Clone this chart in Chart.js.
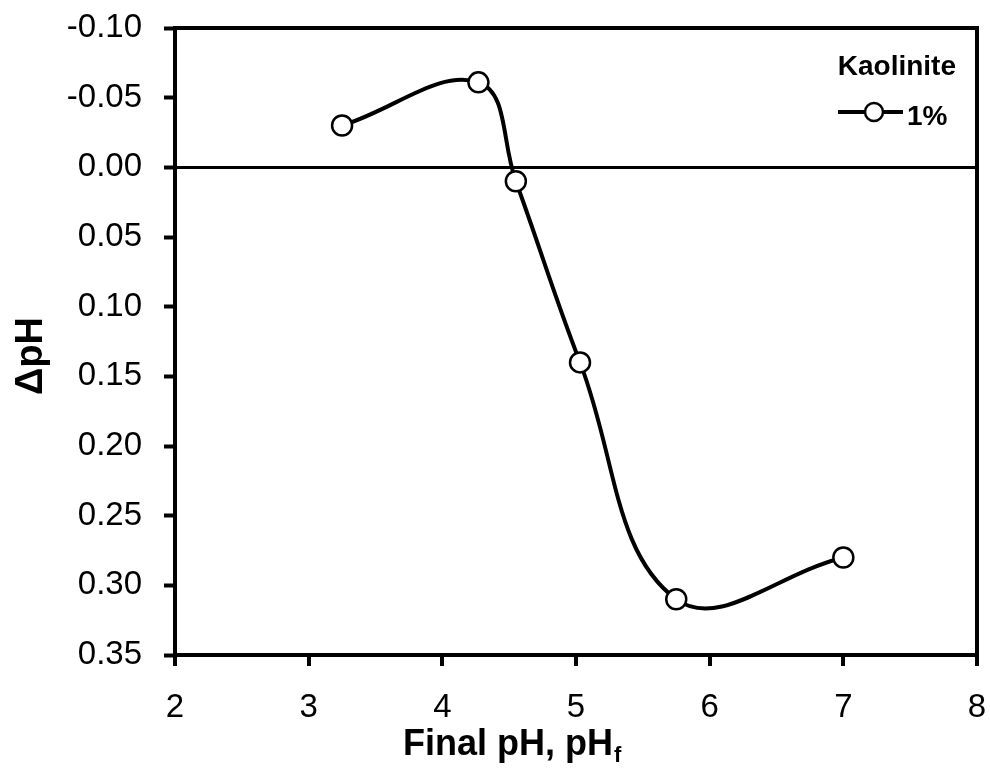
<!DOCTYPE html>
<html>
<head>
<meta charset="utf-8">
<script src="https://cdn.jsdelivr.net/npm/chart.js@4.4.1/dist/chart.umd.min.js"></script>
<style>
  html, body { margin: 0; padding: 0; background: #fff; }
  #wrap { width: 990px; height: 778px; }
</style>
</head>
<body>
<div id="wrap"><canvas id="c" width="990" height="778"></canvas></div>
<script>
// point of zero charge data, kaolinite 1%
const finalPH = [3.25, 4.27, 4.55, 5.03, 5.75, 7.0];
const deltaPH = [-0.03, -0.061, 0.01, 0.14, 0.31, 0.28];
const seriesLabel = '1%';
const legendTitle = 'Kaolinite';
const xTitle = 'Final pH, pH';
const xTitleSub = 'f';
const yTitle = 'ΔpH';

const FONT = 'Arial, "Liberation Sans", sans-serif';

// outer frame + legend + axis titles (x title needs a subscript)
const decor = {
  id: 'decor',
  afterDraw(chart) {
    const { ctx, chartArea: a } = chart;
    ctx.save();
    ctx.strokeStyle = '#000';
    ctx.lineWidth = 4;
    ctx.strokeRect(a.left, a.top, a.right - a.left, a.bottom - a.top);

    ctx.fillStyle = '#000';
    // legend
    ctx.font = 'bold 28px ' + FONT;
    ctx.textAlign = 'right';
    ctx.textBaseline = 'alphabetic';
    ctx.fillText(legendTitle, 956, 75);
    ctx.textAlign = 'left';
    ctx.fillText(seriesLabel, 907, 125);
    ctx.lineWidth = 4;
    ctx.beginPath();
    ctx.moveTo(838, 112);
    ctx.lineTo(903, 112);
    ctx.stroke();
    ctx.beginPath();
    ctx.arc(874, 112, 9, 0, Math.PI * 2);
    ctx.fillStyle = '#fff';
    ctx.fill();
    ctx.lineWidth = 2.5;
    ctx.stroke();

    // x title with subscript
    ctx.fillStyle = '#000';
    ctx.font = 'bold 36px ' + FONT;
    ctx.textAlign = 'left';
    const mainW = ctx.measureText(xTitle).width;
    ctx.fillText(xTitle, 403, 755);
    ctx.font = 'bold 22px ' + FONT;
    ctx.fillText(xTitleSub, 403 + mainW + 1, 762);

    // y title
    ctx.font = 'bold 38px ' + FONT;
    ctx.translate(42, 356);
    ctx.rotate(-Math.PI / 2);
    ctx.textAlign = 'center';
    ctx.textBaseline = 'alphabetic';
    ctx.fillText(yTitle, 0, 0);
    ctx.restore();
  }
};

new Chart(document.getElementById('c'), {
  type: 'scatter',
  data: {
    datasets: [{
      label: seriesLabel,
      data: finalPH.map((x, i) => ({ x, y: deltaPH[i] })),
      showLine: true,
      borderColor: '#000',
      borderWidth: 4,
      tension: 0.4,
      pointRadius: 10,
      pointBorderWidth: 2.5,
      pointBackgroundColor: '#fff',
      pointBorderColor: '#000',
      clip: false
    }]
  },
  options: {
    responsive: false,
    animation: false,
    layout: { padding: { top: 28, right: 13, left: 0, bottom: 0 } },
    plugins: { legend: { display: false }, tooltip: { enabled: false } },
    scales: {
      x: {
        type: 'linear',
        min: 2, max: 8,
        ticks: { stepSize: 1, color: '#000', font: { size: 33, family: FONT }, padding: 22 },
        grid: { drawOnChartArea: false, color: '#000', lineWidth: 4, tickLength: 11 },
        border: { color: '#000', width: 4 },
        afterFit(s) { s.height = 123; s.paddingLeft = 0; s.paddingRight = 0; }
      },
      y: {
        reverse: true,
        min: -0.1, max: 0.35,
        ticks: {
          stepSize: 0.05, color: '#000', font: { size: 33, family: FONT }, padding: 22,
          callback: v => (Math.abs(v) < 1e-9 ? 0 : v).toFixed(2)
        },
        grid: {
          color: c => (c.tick && Math.abs(c.tick.value) < 1e-9 ? '#000' : 'rgba(0,0,0,0)'),
          lineWidth: 3,
          tickColor: '#000',
          tickWidth: 4,
          tickLength: 11
        },
        border: { color: '#000', width: 4 },
        afterFit(s) { s.width = 175; s.paddingTop = 0; s.paddingBottom = 0; }
      }
    }
  },
  plugins: [decor]
});
</script>
</body>
</html>
